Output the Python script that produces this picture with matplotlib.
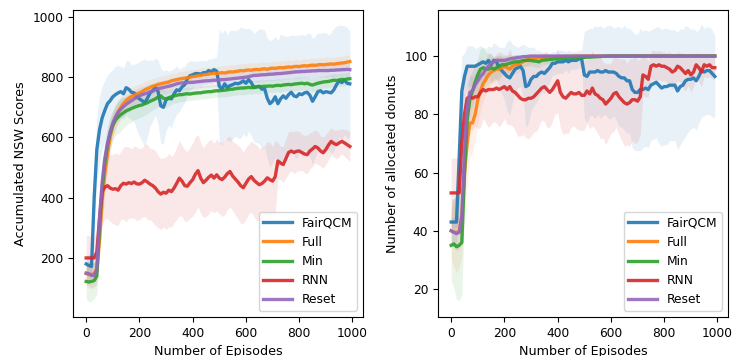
import numpy as np
import matplotlib
matplotlib.use("Agg")
import matplotlib.pyplot as plt

plt.rcParams["font.size"] = 8.8

episodes = np.arange(0, 1000, 10)
labels = ["FairQCM", "Full", "Min", "RNN", "Reset"]

# ---------------- Left: Accumulated NSW Scores ----------------
nsw_fairqcm = [180, 175, 172, 400, 560, 625, 665, 690, 712, 722,
               735, 742, 748, 752, 745, 765, 760, 750, 748, 735,
               728, 722, 715, 730, 748, 755, 768, 752, 705, 700,
               725, 730, 728, 745, 758, 755, 768, 775, 795, 805,
               808, 812, 812, 810, 815, 815, 822, 818, 825, 820,
               770, 760, 778, 765, 772, 775, 780, 778, 782, 788,
               780, 792, 782, 765, 768, 770, 760, 762, 730, 712,
               720, 735, 712, 728, 738, 730, 742, 750, 738, 735,
               745, 742, 748, 750, 740, 720, 735, 752, 755, 748,
               752, 750, 748, 758, 775, 788, 782, 790, 780, 778]
nsw_fairqcm_std = [30, 35, 40, 90, 110, 110, 105, 100, 95, 95,
                   90, 95, 90, 85, 85, 90, 95, 90, 95, 110,
                   125, 135, 145, 125, 110, 100, 95, 105, 125, 120,
                   100, 90, 95, 85, 80, 70, 65, 60, 55, 50,
                   45, 40, 42, 45, 40, 38, 40, 42, 40, 45,
                   190, 185, 180, 175, 185, 180, 175, 180, 185, 175,
                   180, 170, 175, 180, 185, 190, 200, 195, 200, 210,
                   205, 200, 210, 215, 200, 205, 195, 190, 200, 205,
                   195, 200, 190, 195, 205, 210, 200, 195, 190, 200,
                   195, 190, 200, 205, 195, 185, 190, 180, 185, 175]

nsw_full = [148, 145, 145, 148, 160, 260, 390, 480, 545, 600,
            640, 665, 685, 700, 712, 722, 730, 736, 740, 744,
            748, 752, 758, 762, 766, 770, 772, 776, 778, 780,
            782, 784, 788, 790, 792, 794, 795, 797, 798, 800,
            802, 803, 805, 806, 808, 809, 810, 812, 813, 812,
            814, 815, 814, 816, 818, 817, 819, 820, 822, 821,
            823, 824, 823, 825, 826, 825, 827, 828, 826, 829,
            830, 829, 831, 832, 831, 833, 834, 833, 835, 836,
            835, 837, 838, 837, 839, 840, 839, 841, 842, 841,
            842, 843, 844, 843, 845, 846, 847, 848, 850, 852]
nsw_full_std = [40, 45, 45, 40, 50, 70, 80, 70, 60, 50,
                45, 40, 38, 35, 35, 32, 32, 30, 30, 30,
                30, 28, 28, 27, 27, 26, 26, 25, 25, 25,
                25, 24, 25, 23, 24, 25, 24, 23, 24, 25,
                24, 23, 22, 24, 23, 22, 24, 23, 22, 23,
                22, 23, 24, 22, 23, 24, 22, 23, 22, 24,
                23, 22, 24, 23, 22, 23, 24, 22, 23, 22,
                23, 24, 22, 23, 22, 24, 23, 22, 23, 24,
                22, 23, 24, 22, 23, 22, 24, 23, 22, 23,
                24, 22, 23, 22, 24, 23, 22, 24, 23, 22]

nsw_min = [122, 120, 122, 125, 140, 300, 430, 515, 575, 615,
           640, 658, 668, 676, 682, 688, 692, 696, 700, 703,
           706, 708, 712, 715, 720, 724, 728, 734, 738, 730,
           728, 732, 735, 738, 740, 742, 742, 744, 745, 744,
           746, 747, 748, 748, 750, 751, 752, 752, 754, 755,
           755, 756, 757, 758, 760, 760, 762, 763, 764, 764,
           765, 766, 765, 767, 768, 768, 769, 770, 770, 771,
           770, 772, 773, 772, 774, 775, 776, 775, 777, 778,
           779, 780, 778, 780, 776, 774, 777, 780, 782, 784,
           785, 786, 788, 790, 789, 791, 793, 792, 794, 795]
nsw_min_std = [60, 65, 65, 60, 60, 70, 80, 70, 60, 55,
               50, 50, 55, 55, 50, 48, 45, 45, 42, 42,
               40, 40, 38, 36, 35, 33, 32, 30, 30, 30,
               28, 27, 26, 25, 25, 24, 24, 23, 23, 22,
               22, 23, 22, 21, 22, 23, 22, 21, 22, 21,
               22, 21, 22, 23, 22, 21, 22, 21, 22, 23,
               22, 21, 22, 21, 22, 23, 22, 21, 22, 21,
               22, 21, 22, 23, 22, 21, 22, 21, 22, 23,
               22, 21, 22, 21, 22, 23, 22, 21, 22, 21,
               22, 21, 22, 23, 22, 21, 22, 21, 22, 21]

nsw_rnn = [200, 200, 200, 200, 220, 330, 420, 435, 440, 432,
           428, 430, 425, 440, 448, 445, 450, 447, 452, 446,
           445, 450, 458, 452, 445, 440, 432, 420, 412, 418,
           415, 425, 420, 432, 448, 465, 455, 440, 438, 450,
           460, 478, 490, 465, 450, 458, 468, 475, 465, 476,
           465, 460, 468, 480, 487, 472, 462, 452, 440, 433,
           448, 462, 470, 458, 450, 443, 447, 455, 466, 460,
           455, 470, 522, 515, 510, 530, 550, 555, 550, 554,
           555, 550, 545, 543, 555, 562, 570, 565, 555, 549,
           560, 575, 587, 580, 576, 582, 587, 582, 576, 570]
nsw_rnn_std = [75, 75, 70, 70, 80, 100, 110, 105, 110, 110,
               115, 120, 118, 112, 120, 125, 118, 115, 120, 122,
               118, 115, 120, 125, 118, 122, 125, 120, 118, 115,
               120, 122, 118, 115, 120, 125, 118, 120, 115, 118,
               122, 125, 120, 118, 115, 120, 122, 118, 115, 120,
               118, 122, 125, 120, 118, 115, 120, 122, 125, 118,
               120, 115, 118, 122, 125, 120, 118, 115, 120, 122,
               115, 120, 60, 55, 60, 65, 70, 65, 70, 68,
               65, 60, 62, 65, 60, 58, 55, 55, 50, 52,
               50, 48, 45, 45, 48, 45, 42, 45, 48, 50]

nsw_reset = [150, 148, 142, 142, 165, 330, 450, 530, 580, 618,
             648, 668, 684, 694, 702, 710, 716, 722, 728, 733,
             738, 742, 745, 748, 752, 755, 758, 762, 764, 766,
             768, 770, 772, 775, 778, 780, 781, 782, 782, 783,
             783, 784, 785, 786, 787, 788, 788, 789, 790, 790,
             791, 792, 792, 793, 794, 795, 796, 797, 798, 799,
             800, 802, 804, 806, 806, 807, 808, 808, 809, 810,
             810, 811, 812, 812, 813, 814, 815, 816, 817, 818,
             818, 819, 819, 820, 820, 821, 821, 822, 822, 822,
             822, 822, 823, 823, 824, 824, 825, 825, 826, 825]
nsw_reset_std = [40, 40, 42, 40, 50, 65, 70, 60, 50, 45,
                 40, 38, 35, 33, 32, 30, 30, 29, 28, 28,
                 28, 27, 27, 26, 26, 25, 25, 25, 24, 24,
                 24, 23, 24, 23, 22, 23, 24, 23, 22, 23,
                 22, 23, 22, 21, 22, 23, 22, 21, 22, 21,
                 22, 21, 22, 23, 22, 21, 22, 21, 22, 23,
                 22, 21, 22, 21, 22, 23, 22, 21, 22, 21,
                 22, 21, 22, 23, 22, 21, 22, 21, 22, 23,
                 22, 21, 22, 21, 22, 23, 22, 21, 22, 21,
                 22, 21, 22, 23, 22, 21, 22, 21, 22, 21]

# ---------------- Right: Number of allocated donuts ----------------
don_fairqcm = [43, 43, 43, 65, 88, 93, 96.5, 96.5, 96.5, 96.5,
               97, 97.5, 98, 97.5, 98.5, 97, 98.5, 98, 96, 95,
               94, 93, 92.5, 94, 95.5, 96, 96.5, 95, 89.5, 90,
               92, 93, 93, 94, 94.5, 94, 95, 96, 97.5, 97.5,
               98, 98, 98, 98.5, 98, 98.5, 98.5, 98.5, 99, 99,
               93.5, 93, 94.5, 94.5, 94.5, 95, 94.5, 94.5, 95, 94.5,
               94.5, 94.5, 94, 93, 92.5, 92.5, 91.5, 91.5, 88.5, 87.5,
               87.5, 88.5, 88.5, 89, 88.5, 90, 90.5, 91, 90, 89,
               89.5, 89.5, 90, 90, 90, 88, 89.5, 90, 91.5, 92,
               92, 92.5, 91.5, 93, 95, 94.5, 95, 95, 94, 93]
don_fairqcm_std = [8, 8, 9, 15, 12, 8, 7, 7, 7, 6,
                   6, 6, 5, 5, 5, 6, 6, 6, 7, 8,
                   9, 12, 13, 10, 8, 7, 7, 9, 14, 13,
                   11, 10, 9, 8, 7, 7, 6, 5, 4, 4,
                   4, 4, 4, 3, 4, 3, 3, 3, 3, 3,
                   15, 16, 15, 15, 16, 15, 16, 15, 15, 16,
                   16, 15, 16, 17, 17, 18, 18, 18, 20, 20,
                   20, 21, 20, 20, 20, 19, 19, 19, 20, 20,
                   20, 20, 19, 19, 19, 20, 20, 19, 19, 18,
                   17, 17, 17, 16, 16, 15, 15, 15, 15, 14]

don_full = [40, 39.5, 39.5, 39.5, 45, 60, 70, 77, 77, 80,
            85, 88, 90.5, 92, 93.5, 94.5, 95, 95.5, 95.5, 96,
            96.5, 96, 95.5, 96.5, 97, 97, 97.5, 98, 98.5, 99,
            99, 99.2, 99.3, 99.4, 99.5, 99.5, 99.6, 99.6, 99.7, 99.7,
            99.8, 99.8, 99.8, 99.9, 99.9, 99.9, 99.9, 100, 100, 100,
            100, 100, 100, 100, 100, 100, 100, 100, 100, 100,
            100, 100, 100, 100, 100, 100, 100, 100, 100, 100,
            100, 100, 100, 100, 100, 100, 100, 100, 100, 100,
            100, 100, 100, 100, 100, 100, 100, 100, 100, 100,
            100, 100, 100, 100, 100, 100, 100, 100, 100, 100]
don_full_std = [10, 12, 14, 12, 14, 15, 14, 12, 10, 9,
                8, 7, 6, 5, 5, 4, 4, 4, 4, 3,
                3, 3, 3, 3, 3, 3, 2, 2, 2, 2,
                1.5, 1.5, 1.2, 1.2, 1, 1, 1, 0.8, 0.8, 0.8,
                0.6, 0.6, 0.5, 0.5, 0.4, 0.4, 0.3, 0.3, 0.2, 0.2,
                0, 0, 0, 0, 0, 0, 0, 0, 0, 0,
                0, 0, 0, 0, 0, 0, 0, 0, 0, 0,
                0, 0, 0, 0, 0, 0, 0, 0, 0, 0,
                0, 0, 0, 0, 0, 0, 0, 0, 0, 0,
                0, 0, 0, 0, 0, 0, 0, 0, 0, 0]

don_min = [35, 35.5, 34.5, 35, 36, 60, 78, 85, 88, 91,
           93.5, 95.5, 96, 95.5, 95.5, 96, 95.5, 96, 96.5, 97,
           97, 97.2, 97.5, 97.8, 98, 98, 98.2, 98.5, 98.5, 98.5,
           98.5, 98.3, 98.2, 98, 98.5, 98.6, 98.7, 98.8, 98.9, 99,
           99, 99.1, 99.1, 99.2, 99.2, 99.3, 99.3, 99.4, 99.4, 99.5,
           99.5, 99.6, 99.6, 99.7, 99.7, 99.8, 99.8, 99.9, 99.9, 100,
           100, 100, 100, 100, 100, 100, 100, 100, 100, 100,
           100, 100, 100, 100, 100, 100, 100, 100, 100, 100,
           100, 100, 100, 100, 100, 100, 100, 100, 100, 100,
           100, 100, 100, 100, 100, 100, 100, 100, 100, 100]
don_min_std = [12, 15, 18, 19, 18, 14, 10, 8, 7, 6,
               6, 7, 7, 6, 5, 5, 4, 4, 4, 3,
               3, 3, 3, 2.5, 2.5, 2.5, 2, 2, 2, 2,
               2, 2, 2, 2, 1.5, 1.5, 1.5, 1.2, 1.2, 1,
               1, 1, 0.8, 0.8, 0.8, 0.6, 0.6, 0.6, 0.5, 0.5,
               0.4, 0.4, 0.3, 0.3, 0.2, 0.2, 0.1, 0.1, 0.1, 0,
               0, 0, 0, 0, 0, 0, 0, 0, 0, 0,
               0, 0, 0, 0, 0, 0, 0, 0, 0, 0,
               0, 0, 0, 0, 0, 0, 0, 0, 0, 0,
               0, 0, 0, 0, 0, 0, 0, 0, 0, 0]

don_rnn = [53, 53, 53, 53, 70, 80, 85.5, 86, 85.5, 86,
           86, 87.5, 88.5, 88, 88.5, 88.5, 88.5, 89, 88.5, 89,
           89.5, 88.5, 89.5, 88, 87.5, 86.5, 85.5, 85, 85, 85.5,
           85.5, 86, 87, 88, 89, 89.5, 88.5, 87.5, 88.5, 90,
           91.5, 87.5, 86, 85.5, 86.5, 87.5, 87, 87, 87.5, 86.5,
           86.5, 88, 87, 89, 87, 86.5, 85.5, 85, 83.5, 84.5,
           85.5, 87, 87.5, 86, 85, 84, 83.5, 84, 85, 85,
           84.5, 86, 93.5, 93, 92, 96.5, 97, 96.5, 97, 96.5,
           96.5, 96, 95.5, 94.5, 95, 96.5, 96, 95, 94, 95,
           93.5, 94.5, 97, 96, 94.5, 97, 96.5, 97, 96, 96]
don_rnn_std = [12, 12, 12, 12, 15, 12, 12, 11, 11, 10,
               11, 12, 10, 11, 13, 12, 11, 12, 13, 12,
               11, 12, 13, 12, 13, 14, 13, 12, 13, 14,
               13, 12, 13, 12, 11, 12, 13, 12, 11, 10,
               11, 12, 13, 12, 13, 12, 11, 12, 13, 12,
               12, 11, 12, 13, 12, 13, 14, 13, 14, 13,
               12, 13, 12, 13, 14, 15, 14, 15, 14, 15,
               14, 13, 7, 7, 6, 5, 5, 5, 5, 5,
               5, 5, 6, 6, 5, 5, 5, 6, 6, 5,
               6, 5, 4, 5, 5, 4, 4, 4, 4, 4]

don_reset = [40, 39.5, 39, 39.5, 45, 68, 82, 87.5, 88, 90,
             91.5, 93, 94, 95.5, 96.5, 97.5, 98, 98.5, 98.5, 98.5,
             98.5, 98.7, 99, 99.2, 99.3, 99.5, 99.6, 99.8, 99.8, 99.9,
             100, 100, 100, 100, 100, 100, 100, 100, 100, 100,
             100, 100, 100, 100, 100, 100, 100, 100, 100, 100,
             100, 100, 100, 100, 100, 100, 100, 100, 100, 100,
             100, 100, 100, 100, 100, 100, 100, 100, 100, 100,
             100, 100, 100, 100, 100, 100, 100, 100, 100, 100,
             100, 100, 100, 100, 100, 100, 100, 100, 100, 100,
             100, 100, 100, 100, 100, 100, 100, 100, 100, 100]
don_reset_std = [5, 5, 6, 6, 8, 10, 8, 6, 5, 4,
                 4, 3, 3, 3, 2, 2, 2, 1.5, 1.5, 1.5,
                 1, 1, 1, 0.8, 0.8, 0.6, 0.5, 0.4, 0.3, 0.2,
                 0, 0, 0, 0, 0, 0, 0, 0, 0, 0,
                 0, 0, 0, 0, 0, 0, 0, 0, 0, 0,
                 0, 0, 0, 0, 0, 0, 0, 0, 0, 0,
                 0, 0, 0, 0, 0, 0, 0, 0, 0, 0,
                 0, 0, 0, 0, 0, 0, 0, 0, 0, 0,
                 0, 0, 0, 0, 0, 0, 0, 0, 0, 0,
                 0, 0, 0, 0, 0, 0, 0, 0, 0, 0]

colors = ["#1f77b4", "#ff7f0e", "#2ca02c", "#d62728", "#9467bd"]

left_series = [(nsw_fairqcm, nsw_fairqcm_std), (nsw_full, nsw_full_std),
               (nsw_min, nsw_min_std), (nsw_rnn, nsw_rnn_std),
               (nsw_reset, nsw_reset_std)]
right_series = [(don_fairqcm, don_fairqcm_std), (don_full, don_full_std),
                (don_min, don_min_std), (don_rnn, don_rnn_std),
                (don_reset, don_reset_std)]

fig = plt.figure(figsize=(7.33, 3.56), dpi=100)
ax1 = fig.add_axes([73 / 733, 1 - 317 / 356, 290 / 733, 307 / 356])
ax2 = fig.add_axes([438 / 733, 1 - 317 / 356, 290 / 733, 307 / 356])

for ax, series in ((ax1, left_series), (ax2, right_series)):
    for (mean, std), lab, c in zip(series, labels, colors):
        m = np.array(mean, dtype=float)
        s = np.array(std, dtype=float)
        ax.fill_between(episodes, m - s, m + s, color=c, alpha=0.1, linewidth=0)
    for (mean, std), lab, c in zip(series, labels, colors):
        ax.plot(episodes, mean, color=c, lw=2.4, alpha=0.9, label=lab)
    ax.set_xlim(-49.5, 1039.5)
    ax.set_xticks([0, 200, 400, 600, 800, 1000])
    ax.set_xlabel("Number of Episodes", fontsize=9.2)
    ax.legend(loc="lower right", handlelength=2.3)

ax1.set_ylim(4, 1023)
ax1.set_yticks([200, 400, 600, 800, 1000])
ax1.set_ylabel("Accumulated NSW Scores", fontsize=9.2)

ax2.set_ylim(10.4, 115.8)
ax2.set_yticks([20, 40, 60, 80, 100])
ax2.set_ylabel("Number of allocated donuts", fontsize=9.2)

fig.savefig("out.png", dpi=100)
